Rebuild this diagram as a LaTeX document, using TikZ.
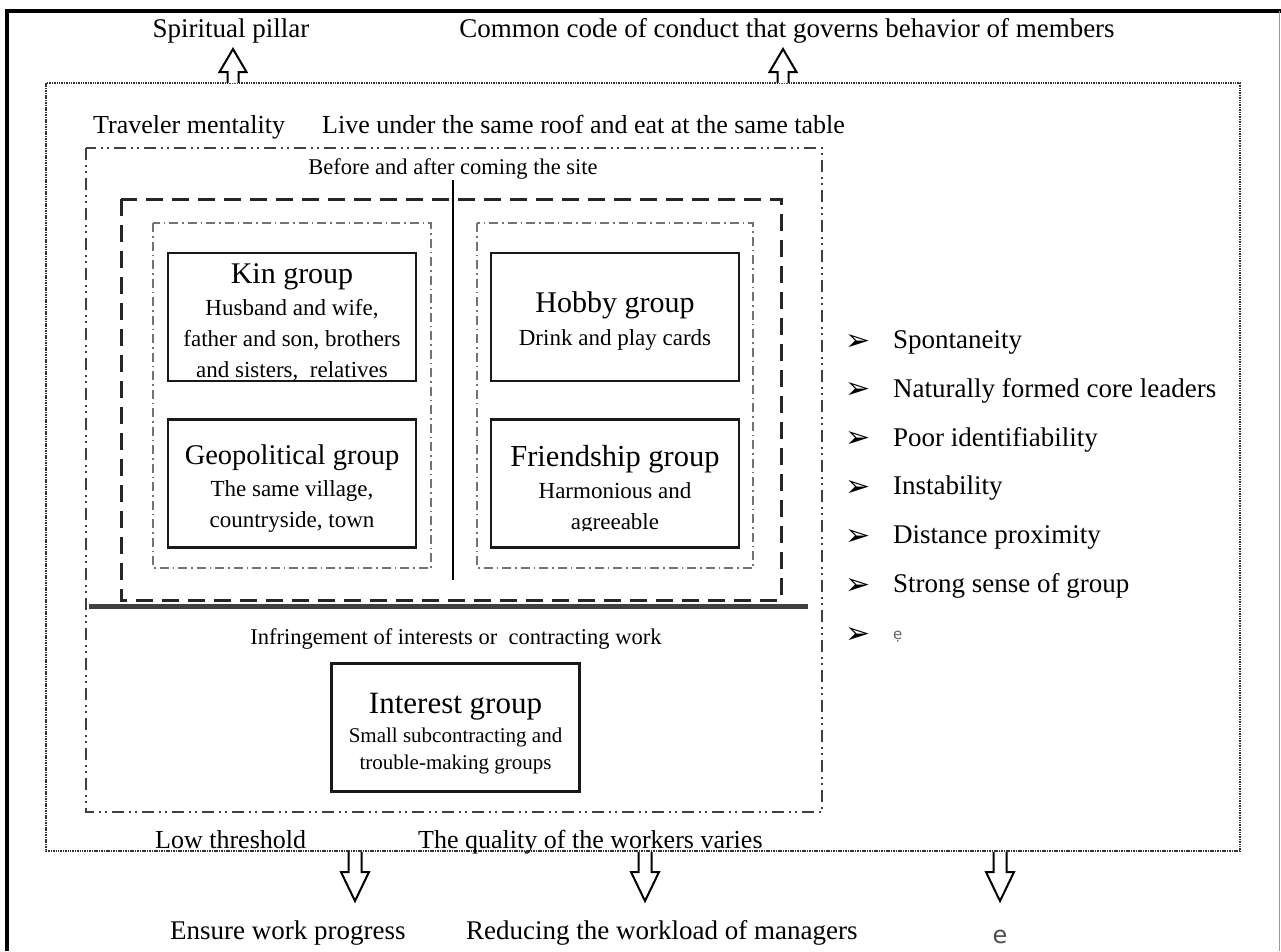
\documentclass[tikz,border=0pt]{standalone}
\usepackage{fontspec}
\setmainfont{Liberation Serif}
\newfontfamily\symfont{DejaVu Sans}
\newcommand\grouptitlefont{\fontsize{30}{34}\selectfont}
\usetikzlibrary{calc}

\begin{document}
\begin{tikzpicture}[x=1pt,y=-1pt,
  frameline/.style={line width=3.4pt,black},
  outerline/.style={line width=2.4pt,black!80,dash pattern=on 1.5pt off 0.9pt},
  midline/.style={line width=2.6pt,black!75,dash pattern=on 12pt off 5pt on 2pt off 4pt on 2pt off 5pt},
  dashline/.style={line width=3pt,black!85,dash pattern=on 17pt off 9pt},
  innerline/.style={line width=1.5pt,black!55,dash pattern=on 9pt off 4pt on 1.5pt off 4pt},
  boxline/.style={line width=2.5pt,black!90},
  groupbox/.style={draw,boxline,minimum width=248pt,minimum height=128pt,inner sep=0pt},
  grouptext/.style={inner sep=0pt,align=center,text=black,font=\fontsize{23}{31}\selectfont},
  labeltext/.style={inner sep=0pt,anchor=base west,font=\fontsize{26}{30}\selectfont},
  toptext/.style={inner sep=0pt,font=\fontsize{27}{30}\selectfont},
  smalltext/.style={inner sep=0pt,anchor=base,font=\fontsize{22.5}{26}\selectfont},
  bullet/.style={inner sep=0pt,font=\symfont\fontsize{30}{32}\selectfont},
  itemtext/.style={inner sep=0pt,anchor=west,font=\fontsize{27}{30}\selectfont},
  hollow/.style={draw=black,line width=2pt,fill=white,line join=miter}
]
\useasboundingbox (0,0) rectangle (1281,951);
\fill[white] (0,0) rectangle (1281,951);

% page frame
\draw[frameline] (7,951) -- (7,11) -- (1281,11);
\draw[line width=1pt,black!40] (1279,11) -- (1279,951);

% nested boundaries
\draw[outerline] (46,83) rectangle (1240,851);
\draw[midline] (86,148) rectangle (822,812);
\draw[dashline] (121,199) rectangle (781,600);
\draw[innerline] (153,223) rectangle (431,568);
\draw[innerline] (477,223) rectangle (753,568);

% dividers
\coordinate (divtop) at (453,180);
\coordinate (divbot) at (453,580);
\draw[line width=2.4pt] (divtop) -- (divbot);
\coordinate (barl) at (89,606);
\coordinate (barr) at (808,606);
\draw[line width=5pt,black!75] (barl) -- (barr);

% group boxes
\node[groupbox] (kin) at (292,317) {};
\node[groupbox] (geo) at (292,483.5) {};
\node[groupbox] (hobby) at (615,317) {};
\node[groupbox] (friend) at (615,483.5) {};
\node[groupbox] (interest) at (455.5,727.5) {};

% group descriptions, set slightly below the box centres
\node[grouptext] (kintext) at ([yshift=-5pt]kin.center) {{\grouptitlefont Kin group}\\[1pt]Husband and wife,\\father and son, brothers\\and sisters,\ \ relatives};
\node[grouptext] (geotext) at ([yshift=-5pt]geo.center) {{\fontsize{28.5}{32}\selectfont Geopolitical group}\\[1pt]The same village,\\countryside, town};
\node[grouptext] (hobbytext) at ([yshift=-4pt]hobby.center) {{\grouptitlefont Hobby group}\\[2pt]Drink and play cards};
\begin{scope}
  \clip ([xshift=2pt]friend.north west) rectangle ([xshift=-2pt,yshift=-0.5pt]friend.east |- 0,530);
  \node[grouptext] (friendtext) at ([yshift=-6pt]friend.center) {{\fontsize{30.5}{34}\selectfont Friendship group}\\[1pt]Harmonious and\\agreeable};
\end{scope}
\node[grouptext,font=\fontsize{21}{27}\selectfont] (interesttext) at ([yshift=-6pt]interest.center) {{\fontsize{31}{34}\selectfont Interest group}\\[2pt]Small subcontracting and\\trouble-making groups};

% labels inside the boundaries
\node[smalltext] (before) at (453,174) {Before and after coming the site};
\node[smalltext] (infr) at (456,644) {Infringement of interests or\ \ contracting work};
\node[labeltext] (travel) at (93,133) {Traveler mentality};
\node[labeltext] (roof) at (322,133) {Live under the same roof and eat at the same table};
\node[labeltext] (low) at (155,848) {Low threshold};
\node[labeltext] (quality) at (418,848) {The quality of the workers varies};

% outputs above and below
\node[toptext,anchor=base] (pillar) at (231,37) {Spiritual pillar};
\node[toptext,anchor=base] (code) at (787,37) {Common code of conduct that governs behavior of members};
\node[toptext,anchor=base west] (progress) at (170,939) {Ensure work progress};
\node[toptext,anchor=base west] (workload) at (466,939) {Reducing the workload of managers};
\node[inner sep=0pt,anchor=base,text=black!70,font=\fontsize{24}{26}\selectfont\symfont] (eout) at (1000,943) {e};

% hollow block arrows
\coordinate (upA) at (233,83);
\coordinate (upB) at (783,83);
\foreach \c in {upA,upB}{
  \draw[hollow] (\c) ++(-5.5,0) -- ++(0,-11) -- ++(-8,0) -- ++(13.5,-23) -- ++(13.5,23) -- ++(-8,0) -- ++(0,11);
}
\coordinate (dnA) at (355,852);
\coordinate (dnB) at (645,852);
\coordinate (dnC) at (1000,852);
\foreach \c in {dnA,dnB,dnC}{
  \draw[hollow] (\c) ++(-6.5,0) -- ++(0,20) -- ++(-7.5,0) -- ++(14,29) -- ++(14,-29) -- ++(-7.5,0) -- ++(0,-20);
}

% characteristics list
\foreach \t [count=\i from 0] in {Spontaneity,Naturally formed core leaders,Poor identifiability,Instability,Distance proximity,Strong sense of group}{
  \node[bullet] (b\i) at (858,{342+48.8*\i}) {➢};
  \node[itemtext] (t\i) at (893,{342+48.8*\i}) {\t};
}
\node[bullet] (b6) at (858,635) {➢};
\node[inner sep=0pt,anchor=west,text=black!60,font=\symfont\fontsize{15}{18}\selectfont] (t6) at (893,637) {ẹ};
\end{tikzpicture}
\end{document}
